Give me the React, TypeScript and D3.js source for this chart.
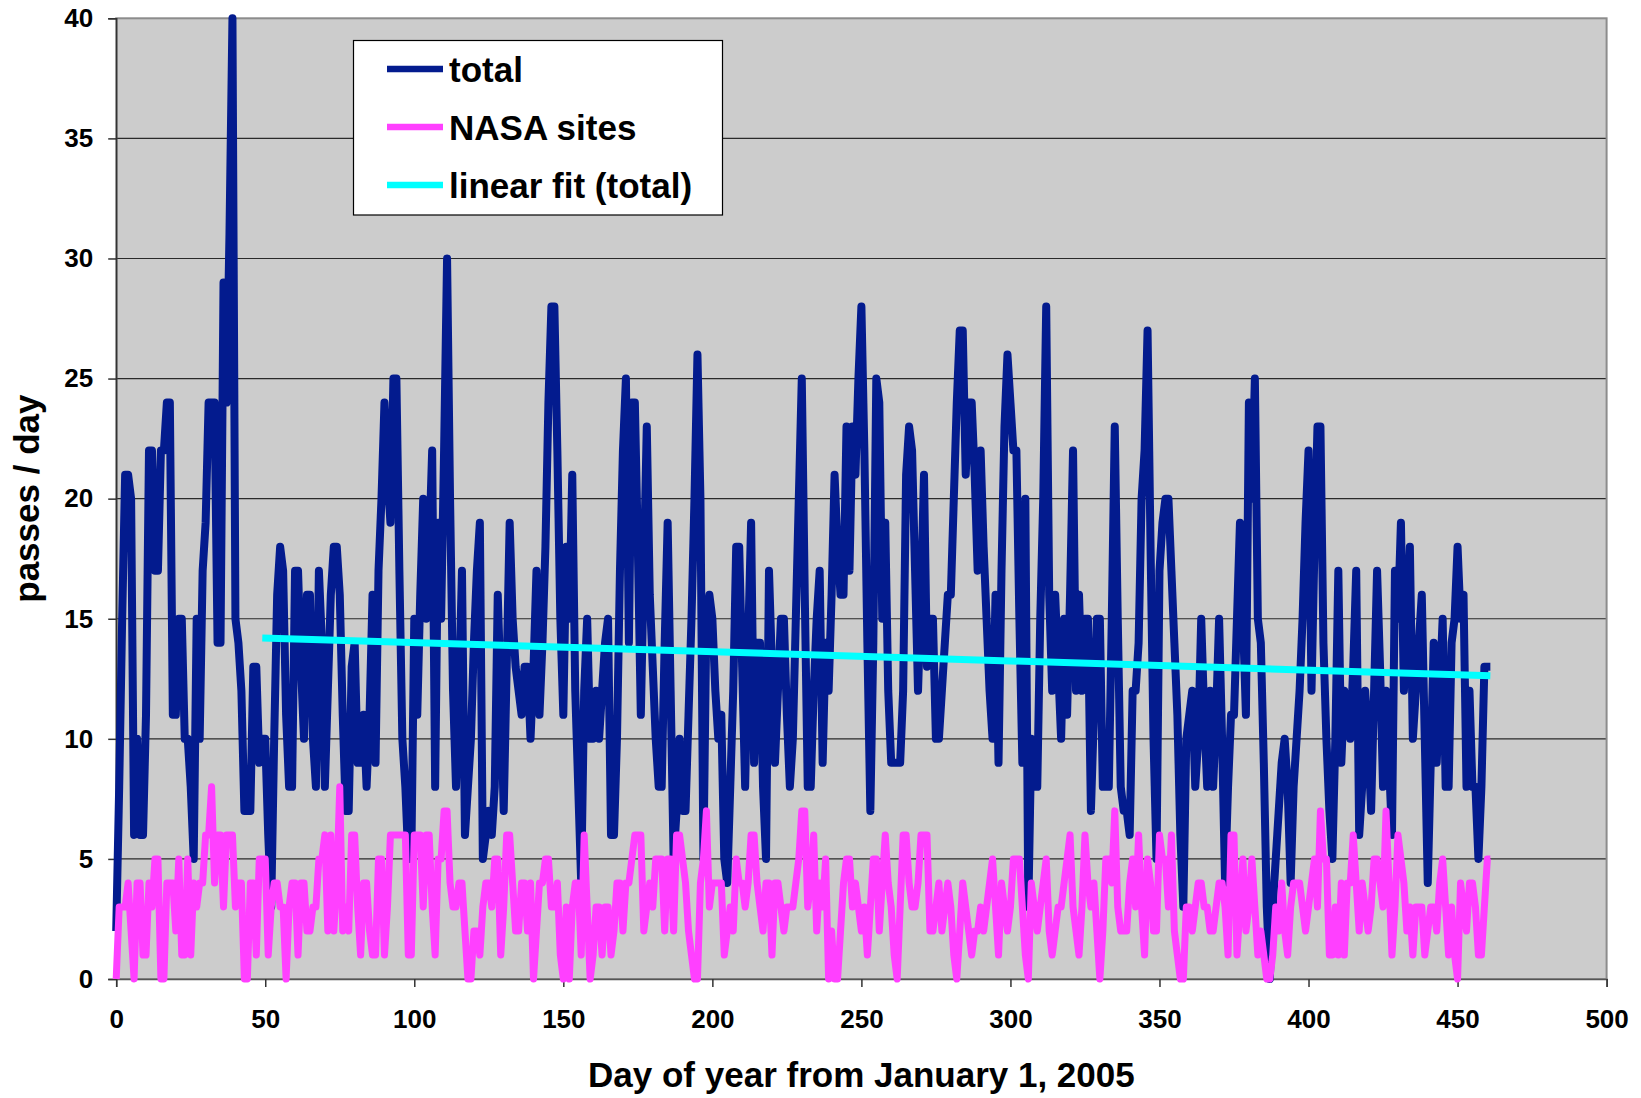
import { useRef, useEffect } from "react";
import * as d3 from "d3";

const W = 1641;
const H = 1098;
const plot = { left: 116.2, right: 1606.6, top: 18.3, bottom: 979 };

// passes per day, day 0 .. 461
const total = [
  2, 8, 15, 21, 21, 20, 6, 10, 6, 6,
  11, 22, 22, 17, 17, 22, 22, 24, 24, 11,
  11, 15, 15, 10, 10, 8, 5, 15, 10, 17,
  19, 24, 24, 24, 14, 14, 29, 24, 31, 40,
  15, 14, 12, 7, 7, 7, 13, 13, 9, 10,
  10, 6, 3, 10, 16, 18, 17, 11, 8, 8,
  17, 17, 13, 10, 16, 16, 10, 8, 17, 14,
  8, 12, 16, 18, 18, 16, 11, 7, 7, 13,
  14, 9, 9, 11, 8, 11, 16, 9, 17, 20,
  24, 21, 19, 25, 25, 17, 10, 8, 5, 5,
  15, 11, 16, 20, 15, 18, 22, 8, 19, 15,
  22, 30, 20, 12, 8, 12, 17, 6, 8, 10,
  14, 17, 19, 5, 6, 7, 6, 8, 16, 12,
  7, 13, 19, 15, 13, 12, 11, 13, 13, 10,
  13, 17, 11, 14, 18, 24, 28, 28, 22, 15,
  11, 18, 15, 21, 12, 8, 4, 12, 15, 10,
  10, 12, 10, 12, 14, 15, 6, 6, 10, 17,
  22, 25, 14, 24, 24, 18, 11, 17, 23, 16,
  13, 10, 8, 8, 14, 19, 12, 5, 7, 10,
  7, 7, 11, 15, 20, 26, 20, 5, 15, 16,
  15, 12, 10, 11, 5, 4, 8, 12, 18, 18,
  13, 8, 14, 19, 9, 14, 14, 8, 5, 17,
  13, 9, 12, 15, 15, 11, 8, 10, 15, 20,
  25, 16, 8, 8, 12, 15, 17, 9, 14, 12,
  16, 21, 18, 16, 16, 23, 17, 23, 21, 25,
  28, 22, 14, 7, 14, 25, 24, 15, 19, 12,
  9, 9, 9, 9, 12, 21, 23, 22, 17, 12,
  16, 21, 13, 15, 15, 10, 10, 12, 14, 16,
  16, 20, 24, 27, 27, 21, 24, 24, 21, 17,
  22, 18, 15, 12, 10, 16, 9, 17, 23, 26,
  24, 22, 22, 15, 9, 20, 3, 10, 8, 8,
  15, 20, 28, 16, 12, 16, 13, 10, 15, 11,
  16, 22, 12, 16, 12, 15, 15, 7, 11, 15,
  15, 8, 8, 8, 15, 23, 15, 8, 7, 7,
  6, 12, 12, 14, 20, 22, 27, 18, 10, 5,
  17, 19, 20, 20, 17, 14, 11, 6, 3, 10,
  11, 12, 8, 10, 15, 11, 8, 12, 8, 11,
  15, 10, 4, 8, 11, 11, 15, 19, 15, 11,
  24, 20, 25, 15, 14, 9, 3, 0, 3, 5,
  7, 9, 10, 8, 4, 8, 10, 12, 15, 19,
  22, 12, 18, 23, 23, 14, 10, 7, 5, 10,
  17, 9, 12, 11, 10, 13, 17, 6, 8, 12,
  10, 7, 12, 17, 13, 8, 12, 9, 6, 17,
  15, 19, 12, 15, 18, 10, 12, 14, 16, 10,
  4, 9, 14, 9, 12, 15, 8, 8, 14, 15,
  18, 15, 16, 8, 12, 8, 8, 5, 8, 13,
  13, 13,
];

const nasa = [
  0, 3, 3, 3, 4, 2, 0, 4, 4, 1,
  1, 4, 3, 5, 5, 0, 0, 4, 4, 4,
  2, 5, 1, 1, 5, 1, 4, 3, 4, 4,
  6, 6, 8, 4, 6, 6, 3, 6, 6, 6,
  3, 4, 4, 0, 0, 4, 4, 1, 5, 5,
  5, 1, 3, 4, 4, 3, 3, 0, 3, 4,
  4, 1, 4, 4, 2, 2, 3, 3, 5, 5,
  6, 2, 6, 2, 4, 8, 2, 3, 2, 6,
  6, 3, 1, 4, 4, 2, 1, 1, 5, 5,
  1, 3, 6, 6, 6, 6, 6, 6, 1, 1,
  6, 6, 6, 3, 6, 6, 3, 1, 5, 5,
  7, 7, 4, 3, 3, 4, 4, 2, 0, 0,
  2, 2, 1, 3, 4, 4, 3, 5, 5, 1,
  3, 6, 6, 4, 2, 2, 4, 4, 2, 4,
  0, 2, 4, 4, 5, 5, 3, 3, 4, 1,
  0, 3, 0, 3, 4, 4, 1, 6, 3, 0,
  1, 3, 3, 1, 3, 3, 1, 2, 4, 4,
  2, 4, 4, 5, 6, 6, 6, 2, 3, 4,
  3, 5, 5, 5, 2, 5, 5, 2, 6, 6,
  5, 4, 2, 1, 0, 0, 4, 5, 7, 3,
  4, 4, 4, 4, 1, 2, 3, 2, 5, 4,
  4, 3, 4, 6, 6, 4, 3, 2, 4, 4,
  1, 4, 4, 3, 2, 3, 3, 3, 4, 5,
  7, 7, 3, 4, 6, 2, 4, 3, 5, 0,
  2, 0, 0, 2, 4, 5, 5, 3, 4, 3,
  2, 3, 1, 3, 5, 5, 2, 4, 6, 4,
  3, 1, 0, 3, 6, 6, 4, 3, 3, 4,
  6, 6, 6, 2, 2, 3, 4, 2, 3, 4,
  3, 1, 0, 2, 4, 3, 2, 1, 2, 2,
  3, 2, 3, 4, 5, 3, 1, 4, 3, 2,
  3, 5, 5, 5, 3, 1, 0, 4, 3, 2,
  3, 4, 5, 2, 1, 2, 3, 3, 4, 5,
  6, 3, 2, 1, 3, 6, 4, 3, 4, 2,
  0, 2, 5, 5, 4, 7, 3, 2, 2, 2,
  4, 5, 3, 6, 3, 1, 5, 4, 2, 2,
  6, 5, 5, 3, 6, 2, 1, 0, 0, 3,
  3, 2, 3, 4, 4, 3, 3, 2, 2, 3,
  4, 4, 3, 1, 6, 6, 1, 3, 5, 2,
  3, 5, 3, 1, 2, 1, 0, 0, 1, 3,
  2, 4, 2, 1, 3, 4, 4, 4, 3, 2,
  3, 4, 5, 3, 7, 5, 5, 1, 1, 3,
  1, 4, 1, 4, 4, 6, 4, 2, 4, 3,
  2, 3, 5, 5, 4, 3, 7, 4, 1, 3,
  6, 5, 4, 2, 3, 1, 3, 3, 3, 1,
  2, 3, 3, 2, 4, 5, 3, 1, 3, 1,
  0, 4, 3, 2, 4, 4, 3, 1, 1, 3,
  5, 5,
];

// linear fit of total, end points
const fitDays = [49, 461];
const fitValues = [14.2, 12.63];

const xTicks = [0, 50, 100, 150, 200, 250, 300, 350, 400, 450, 500];
const yTicks = [0, 5, 10, 15, 20, 25, 30, 35, 40];

const seriesNames = ["total", "NASA sites", "linear fit (total)"];
const seriesColors = ["#031b8e", "#ff40ff", "#00ffff"];

const FONT = "'Liberation Sans', Arial, Helvetica, sans-serif";

export default function App() {
  const svgRef = useRef<SVGSVGElement>(null);

  useEffect(() => {
    const svg = d3.select(svgRef.current);
    svg.selectAll("*").remove();

    const x = d3.scaleLinear().domain([0, 500]).range([plot.left, plot.right]);
    const y = d3.scaleLinear().domain([0, 40]).range([plot.bottom, plot.top]);

    svg.append("rect").attr("width", W).attr("height", H).attr("fill", "#fff");

    // plot area
    svg
      .append("rect")
      .attr("x", plot.left)
      .attr("y", plot.top)
      .attr("width", plot.right - plot.left)
      .attr("height", plot.bottom - plot.top)
      .attr("fill", "#cccccc");

    // gridlines
    svg
      .append("g")
      .selectAll("line")
      .data(yTicks.filter((t) => t > 0 && t < 40))
      .join("line")
      .attr("x1", plot.left)
      .attr("x2", plot.right)
      .attr("y1", (d) => y(d))
      .attr("y2", (d) => y(d))
      .attr("stroke", "#2a2a2a")
      .attr("stroke-width", 1.2);

    // plot border
    svg
      .append("rect")
      .attr("x", plot.left)
      .attr("y", plot.top)
      .attr("width", plot.right - plot.left)
      .attr("height", plot.bottom - plot.top)
      .attr("fill", "none")
      .attr("stroke", "#8c8c8c")
      .attr("stroke-width", 2);

    // axes
    const yAxis = d3.axisLeft(y).tickValues(yTicks).tickSize(8).tickPadding(15);
    const gy = svg
      .append("g")
      .attr("transform", `translate(${plot.left},0)`)
      .call(yAxis);
    gy.select(".domain").attr("stroke", "#333").attr("stroke-width", 1.5);

    const xAxis = d3.axisBottom(x).tickValues(xTicks).tickSize(8).tickPadding(23);
    const gx = svg
      .append("g")
      .attr("transform", `translate(0,${plot.bottom})`)
      .call(xAxis);
    gx.select(".domain").attr("stroke", "#555").attr("stroke-width", 1.5);

    [gx, gy].forEach((g) => {
      g.selectAll(".tick line").attr("stroke", "#333").attr("stroke-width", 1.5);
      g.selectAll(".tick text")
        .attr("fill", "#000")
        .style("font-family", FONT)
        .style("font-weight", "bold")
        .style("font-size", "26px");
    });

    // series
    const dayLine = d3
      .line<number>()
      .x((d, i) => x(i))
      .y((d) => y(d));

    svg
      .append("path")
      .attr("d", dayLine(total))
      .attr("fill", "none")
      .attr("stroke", seriesColors[0])
      .attr("stroke-width", 8)
      .attr("stroke-linejoin", "round");

    svg
      .append("path")
      .attr("d", dayLine(nasa))
      .attr("fill", "none")
      .attr("stroke", seriesColors[1])
      .attr("stroke-width", 7)
      .attr("stroke-linejoin", "round");

    const fitLine = d3
      .line<number>()
      .x((d, i) => x(fitDays[i]))
      .y((d) => y(d));

    svg
      .append("path")
      .attr("d", fitLine(fitValues))
      .attr("fill", "none")
      .attr("stroke", seriesColors[2])
      .attr("stroke-width", 7);

    // legend
    const legend = svg.append("g");
    legend
      .append("rect")
      .attr("x", 353.5)
      .attr("y", 40.5)
      .attr("width", 369)
      .attr("height", 174.5)
      .attr("fill", "#fff")
      .attr("stroke", "#000")
      .attr("stroke-width", 1.2);

    const items = legend
      .selectAll("g.item")
      .data(seriesNames)
      .join("g")
      .attr("class", "item")
      .attr("transform", (d, i) => `translate(0,${69 + i * 58})`);
    items
      .append("line")
      .attr("x1", 387)
      .attr("x2", 443)
      .attr("stroke", (d, i) => seriesColors[i])
      .attr("stroke-width", 6.5);
    items
      .append("text")
      .attr("x", 449)
      .attr("y", 13)
      .text((d) => d)
      .style("font-family", FONT)
      .style("font-weight", "bold")
      .style("font-size", "35px");

    // axis titles
    svg
      .append("text")
      .attr("x", (plot.left + plot.right) / 2)
      .attr("y", 1087)
      .attr("text-anchor", "middle")
      .text("Day of year from January 1, 2005")
      .style("font-family", FONT)
      .style("font-weight", "bold")
      .style("font-size", "35px");

    svg
      .append("text")
      .attr("transform", `translate(39,${(plot.top + plot.bottom) / 2}) rotate(-90)`)
      .attr("text-anchor", "middle")
      .text("passes / day")
      .style("font-family", FONT)
      .style("font-weight", "bold")
      .style("font-size", "35px");
  }, []);

  return (
    <svg
      ref={svgRef}
      width={W}
      height={H}
      style={{ position: "absolute", left: 0, top: 0, display: "block" }}
    />
  );
}
